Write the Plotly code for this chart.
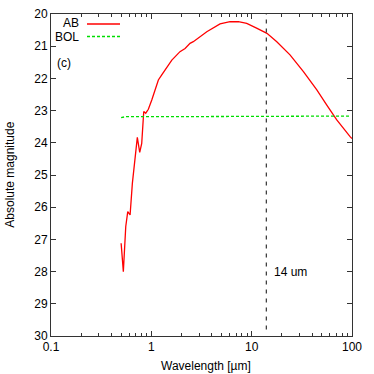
import plotly.graph_objects as go

ab_wl = [0.50, 0.526, 0.556, 0.582, 0.614, 0.647, 0.725, 0.766, 0.802, 0.840, 0.879, 0.934,
         1.01, 1.09, 1.175, 1.27, 1.37, 1.42, 1.48, 1.60, 1.72, 1.93, 2.17, 2.43, 2.62, 3.57,
         4.84, 6.09, 7.37, 8.93, 11.2, 14.2, 17.8, 24.1, 32.8, 44.6, 56.1, 70.5, 95.7, 100]
ab_mag = [27.12, 28.00, 26.60, 26.14, 26.24, 25.26, 23.83, 24.30, 24.02, 23.03, 23.08, 22.96,
          22.67, 22.36, 22.05, 21.89, 21.74, 21.64, 21.58, 21.43, 21.33, 21.17, 21.07, 20.91,
          20.86, 20.55, 20.31, 20.24, 20.24, 20.29, 20.44, 20.60, 20.86, 21.27, 21.79, 22.36,
          22.83, 23.29, 23.81, 23.87]

bol_wl = [0.50, 0.55, 1.0, 10.0, 96.0]
bol_mag = [23.22, 23.19, 23.19, 23.18, 23.17]

marker_wl = 14
x_ticks = [0.1, 1, 10, 100]
x_ticklabels = ["0.1", "1", "10", "100"]
y_ticks = [20, 21, 22, 23, 24, 25, 26, 27, 28, 29, 30]
minor_x = [m * d for d in (0.1, 1, 10) for m in range(2, 10)]
x_title = "Wavelength [µm]"
y_title = "Absolute magnitude"

FONT = "Liberation Sans, Arial, Helvetica, sans-serif"
FS = 12

fig = go.Figure()
fig.add_trace(go.Scatter(x=ab_wl, y=ab_mag, mode="lines", name="AB",
                         line=dict(color="#ff0000", width=1.3), showlegend=False))
fig.add_trace(go.Scatter(x=bol_wl, y=bol_mag, mode="lines", name="BOL",
                         line=dict(color="#00dd00", width=1.3, dash="3px,2px"), showlegend=False))

fig.add_shape(type="line", xref="x", yref="paper", x0=marker_wl, x1=marker_wl, y0=0.02, y1=1,
              line=dict(color="#333333", width=1.2, dash="4px,5px"))

# gnuplot-style key
for label, ypix in (("AB", 23.5), ("BOL", 37.5)):
    fig.add_annotation(xref="paper", yref="paper", x=(80 - 51) / 301, y=1 - (ypix - 14) / 322,
                       text=label, showarrow=False, xanchor="right", yanchor="middle",
                       borderpad=0, font=dict(family=FONT, size=FS, color="#000"))
fig.add_shape(type="line", xref="paper", yref="paper", x0=(87 - 51) / 301, x1=(120 - 51) / 301,
              y0=1 - (24 - 14) / 322, y1=1 - (24 - 14) / 322, line=dict(color="#ff0000", width=1.3))
fig.add_shape(type="line", xref="paper", yref="paper", x0=(87 - 51) / 301, x1=(120 - 51) / 301,
              y0=1 - (36.5 - 14) / 322, y1=1 - (36.5 - 14) / 322,
              line=dict(color="#00dd00", width=1.3, dash="3px,2px"))

fig.add_annotation(xref="x", yref="y", x=-0.87, y=21.52, text="(c)", showarrow=False,
                   font=dict(family=FONT, size=FS, color="#000"))
fig.add_annotation(xref="x", yref="y", x=1.2, y=28.0, text="14 um", showarrow=False,
                   xanchor="left", font=dict(family=FONT, size=FS, color="#000"))

# axis titles placed like gnuplot
fig.add_annotation(xref="paper", yref="paper", x=(206 - 51) / 301, y=-(366 - 336) / 322,
                   text=x_title, showarrow=False, xanchor="center", yanchor="middle",
                   font=dict(family=FONT, size=FS, color="#000"))
fig.add_annotation(xref="paper", yref="paper", x=(10 - 51) / 301, y=1 - (174.7 - 14) / 322,
                   text=y_title, showarrow=False, textangle=-90, xanchor="center", yanchor="middle",
                   font=dict(family=FONT, size=FS, color="#000"))

fig.update_layout(
    width=374, height=374,
    margin=dict(l=51, r=22, t=14, b=38, autoexpand=False),
    paper_bgcolor="white", plot_bgcolor="white",
    font=dict(family=FONT, size=FS, color="#000"),
    xaxis=dict(type="log", range=[-1, 2], tickvals=x_ticks, ticktext=x_ticklabels,
               ticks="inside", ticklen=5, tickcolor="#333", showline=True, linecolor="#333",
               linewidth=1, mirror="ticks", showgrid=False, zeroline=False, automargin=False,
               minor=dict(ticks="inside", ticklen=3, tickcolor="#333", tickvals=minor_x, showgrid=False)),
    yaxis=dict(range=[30, 20], tickvals=y_ticks, ticks="inside", ticklen=5, tickcolor="#333",
               showline=True, linecolor="#333", linewidth=1, mirror="ticks", showgrid=False,
               zeroline=False, automargin=False),
)

fig.write_html("out.html", config={"displayModeBar": False},
               post_script="document.body.style.margin='0';document.body.style.overflow='hidden';")
